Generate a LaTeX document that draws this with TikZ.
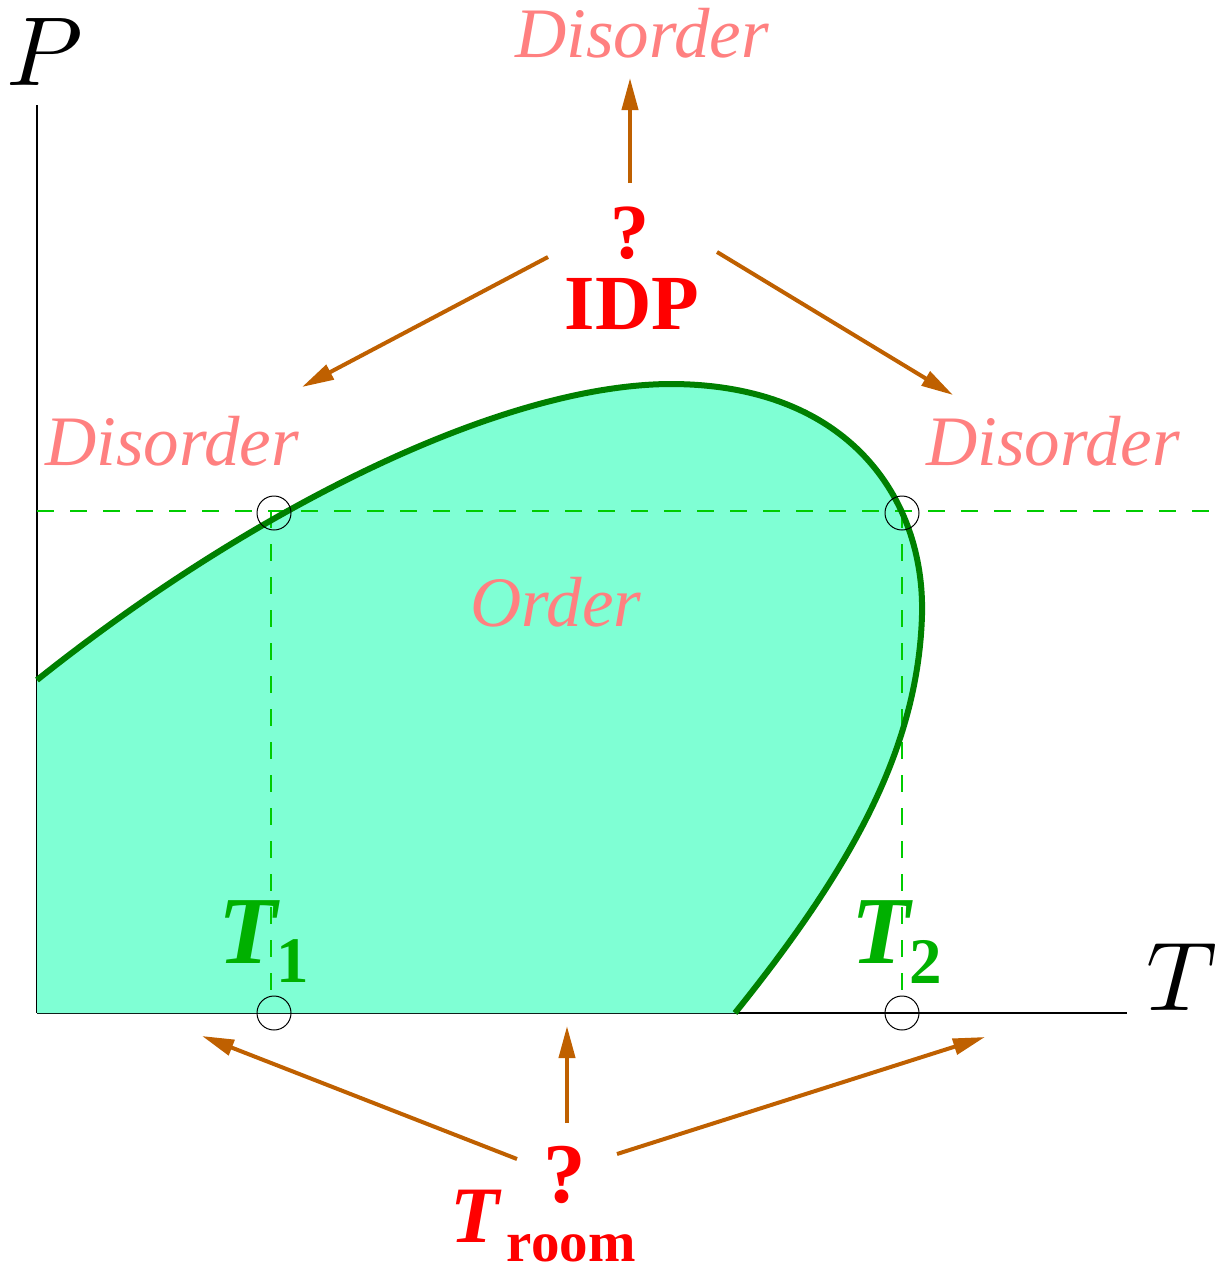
\documentclass[tikz,border=0pt]{standalone}
\usepackage{graphicx}
\usepackage{fontspec}
\setmainfont{Liberation Serif}
\usetikzlibrary{arrows.meta}
\definecolor{pinktxt}{HTML}{FF8080}
\definecolor{arrowc}{HTML}{BF6000}
\definecolor{curvec}{HTML}{008000}
\definecolor{fillc}{HTML}{7FFFD4}
\definecolor{dashc}{HTML}{00CC00}
\definecolor{tlab}{HTML}{00B000}
\definecolor{qred}{HTML}{FF0000}
\begin{document}
\begin{tikzpicture}[x=1pt,y=-1pt,
  lbl/.style={inner sep=0pt, outer sep=0pt},
  dis/.style={lbl, text=pinktxt, font=\fontsize{71}{80}\selectfont\itshape},
  redlbl/.style={lbl, text=qred, font=\bfseries},
  tlbl/.style={lbl, text=tlab},
  axislbl/.style={lbl, font=\normalsize},
  arr/.style={draw=arrowc, line width=4pt, -{Triangle[length=32pt,width=16pt]}},
  axisline/.style={line width=2pt, black},
  guide/.style={draw=dashc, line width=2pt, dash pattern=on 17pt off 16pt},
  mark circ/.style={draw=black, line width=1pt},
  boundary/.style={draw=curvec, line width=6pt}
]
\useasboundingbox (0,0) rectangle (1221,1266);
% axes
\draw[axisline] (37,105) -- (37,1013);
\draw[axisline] (37,1013) -- (1127,1013);
% filled ordered region
\fill[fillc] (37,680) .. controls (250,510) and (500,385) .. (670,384)
  .. controls (850,384) and (925,500) .. (922,615)
  .. controls (918,750) and (850,870) .. (735,1013) -- (37,1013) -- cycle;
% guide lines
\draw[guide] (37,511) -- (1221,511);
\draw[guide] (271,511) -- (271,1000);
\draw[guide] (902,511) -- (902,1000);
% boundary curve
\draw[boundary] (37,680) .. controls (250,510) and (500,385) .. (670,384)
  .. controls (850,384) and (925,500) .. (922,615)
  .. controls (918,750) and (850,870) .. (735,1013);
% circles
\draw[mark circ] (274,513) circle (17);
\draw[mark circ] (902,513) circle (17);
\draw[mark circ] (274,1013) circle (17);
\draw[mark circ] (902,1013) circle (17);
% axis labels
\node[axislbl, anchor=base west] (P) at (6,85) {\scalebox{9.8}{$P$}};
\node[axislbl, anchor=base west] (T) at (1146,1010) {\scalebox{9.8}{$T$}};
% texts
\node[dis, anchor=base] (dtop) at (642,57) {Disorder};
\node[dis, anchor=base] (dleft) at (172,465) {Disorder};
\node[dis, anchor=base] (dright) at (1053,465) {Disorder};
\node[dis, anchor=base] (order) at (556,626) {Order};
\node[redlbl, anchor=base, font=\fontsize{78}{80}\selectfont\bfseries] (q1) at (630,258) {?};
\node[redlbl, anchor=base, font=\fontsize{78}{80}\selectfont\bfseries] (idp) at (632,329) {IDP};
\node[redlbl, anchor=base, font=\fontsize{85}{90}\selectfont\bfseries] (q2) at (565,1202) {?};
\node[redlbl, anchor=base west, font=\fontsize{80}{80}\selectfont\bfseries] (troom) at (450,1242)
  {\itshape T\upshape\hspace{8pt}\raisebox{-19pt}{\fontsize{57}{57}\selectfont room}};
\node[tlbl, anchor=base west, font=\fontsize{96}{96}\selectfont\bfseries] (t1) at (218,963)
  {\itshape T\upshape\raisebox{-19pt}{\fontsize{65}{65}\selectfont 1}};
\node[tlbl, anchor=base west, font=\fontsize{96}{96}\selectfont\bfseries] (t2) at (851,963)
  {\itshape T\upshape\raisebox{-20pt}{\fontsize{65}{65}\selectfont 2}};
% arrow end points
\coordinate (a1s) at (630,183); \coordinate (a1e) at (630,78);
\coordinate (a2s) at (548,257); \coordinate (a2e) at (302,387);
\coordinate (a3s) at (717,252); \coordinate (a3e) at (953,395);
\coordinate (b1s) at (517,1159); \coordinate (b1e) at (202,1036);
\coordinate (b2s) at (567,1123); \coordinate (b2e) at (567,1026);
\coordinate (b3s) at (617,1154); \coordinate (b3e) at (985,1037);
\draw[arr] (a1s) -- (a1e);
\draw[arr] (a2s) -- (a2e);
\draw[arr] (a3s) -- (a3e);
\draw[arr] (b1s) -- (b1e);
\draw[arr] (b2s) -- (b2e);
\draw[arr] (b3s) -- (b3e);
\end{tikzpicture}
\end{document}
